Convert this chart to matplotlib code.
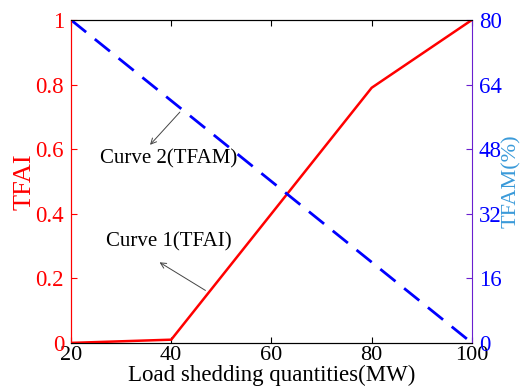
import numpy as np
import matplotlib.pyplot as plt

plt.rcParams['font.family'] = ['Liberation Serif', 'DejaVu Serif']

# load shedding (MW)
load_mw = [20, 40, 60, 80, 100]
# curve 1: TFAI
tfai = [0.0, 0.01, 0.40, 0.79, 1.0]
# curve 2: TFAM (%)
tfam = [80, 60, 40, 20, 0]

fig = plt.figure(figsize=(5.22, 3.91), dpi=100)
ax = fig.add_axes([0.136, 0.123, 0.768, 0.826])
ax2 = ax.twinx()

ax.plot(load_mw, tfai, color='red', lw=1.8, zorder=3)
ax2.plot(load_mw, tfam, color='blue', lw=2, dashes=(7, 4))

ax.set_xlim(20, 100)
ax.set_ylim(0, 1)
ax2.set_ylim(0, 80)
ax.set_xticks([20, 40, 60, 80, 100])
ax.set_yticks([0, 0.2, 0.4, 0.6, 0.8, 1])
ax.set_yticklabels(['0', '0.2', '0.4', '0.6', '0.8', '1'])
ax2.set_yticks([0, 16, 32, 48, 64, 80])

ax.tick_params(axis='x', direction='in', labelsize=16, length=4, pad=2, top=True)
ax.tick_params(axis='y', direction='in', colors='red', labelsize=16.5, length=4, pad=5)
ax2.tick_params(axis='y', direction='in', colors='#6a1fcf', labelcolor='blue',
                labelsize=16.5, length=4, pad=5)

ax.spines['left'].set_color('red')
ax2.spines['left'].set_color('red')
ax2.spines['right'].set_color('#6a1fcf')
ax.spines['right'].set_visible(False)

ax.set_xlabel('Load shedding quantities(MW)', fontsize=16.5, labelpad=0)
ax.set_ylabel('TFAI', color='red', fontsize=19, labelpad=0)
ax2.set_ylabel('TFAM(%)', color='#3a9ad9', fontsize=16, labelpad=0)

# annotations
ax.text(39.5, 0.57, 'Curve 2(TFAM)', fontsize=15, ha='center', va='center')
ax.annotate('', xy=(35.4, 0.607), xytext=(42.1, 0.721),
            arrowprops=dict(arrowstyle='->', color='#444444', lw=0.7))
ax.text(39.5, 0.313, 'Curve 1(TFAI)', fontsize=15, ha='center', va='center')
ax.annotate('', xy=(37.2, 0.254), xytext=(47.3, 0.158),
            arrowprops=dict(arrowstyle='->', color='#444444', lw=0.7))

fig.savefig('out.png', dpi=100)
